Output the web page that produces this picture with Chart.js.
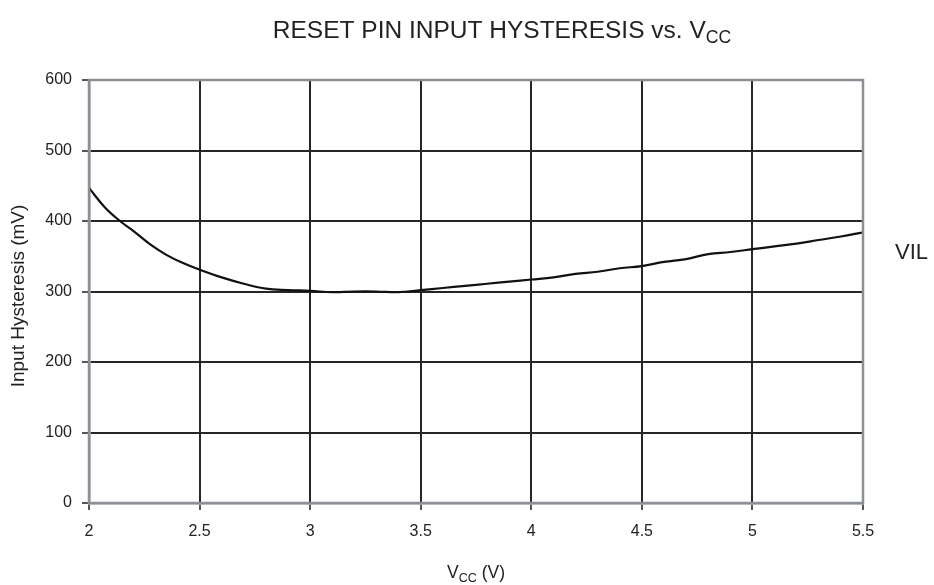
<!DOCTYPE html>
<html>
<head>
<meta charset="utf-8">
<title>RESET PIN INPUT HYSTERESIS vs. VCC</title>
<script src="https://cdn.jsdelivr.net/npm/chart.js@4"></script>
<style>
  html, body { margin: 0; padding: 0; background: #fff; }
  #wrap { width: 934px; height: 585px; position: relative; }
</style>
</head>
<body>
<div id="wrap"><canvas id="hysteresisChart"></canvas></div>
<script>
// Supply voltage (V) and measured hysteresis (mV) along the VIL curve
const vccValues = [2.0, 2.07, 2.14, 2.2, 2.28, 2.35, 2.42, 2.5, 2.6, 2.7, 2.8, 2.9, 3.0, 3.1, 3.2, 3.3, 3.4, 3.5,
  3.6, 3.7, 3.8, 3.9, 4.0, 4.1, 4.2, 4.3, 4.4, 4.5, 4.6, 4.7, 4.8, 4.9, 5.0, 5.1, 5.2, 5.3, 5.4, 5.5];
const hysteresisValues = [447, 420, 400, 386, 366, 352, 341, 331, 320, 311, 304, 302, 301, 299, 300, 300, 299, 302,
  305, 308, 311, 314, 317, 320, 325, 328, 333, 336, 342, 346, 353, 356, 360, 364, 368, 373, 378, 384];
const xTicks = [2, 2.5, 3, 3.5, 4, 4.5, 5, 5.5];
const yTicks = [0, 100, 200, 300, 400, 500, 600];
const seriesLabel = 'VIL';

const FONT = '"Liberation Sans", Arial, Helvetica, sans-serif';
const GRID = '#262626';
const FRAME = '#8c9096';

// Text with an optional subscript, drawn left to right from x
function drawSubText(ctx, parts, x, y, size) {
    let cx = x;
    parts.forEach(p => {
        const s = p.sub ? size * 0.72 : size;
        ctx.font = s + 'px ' + FONT;
        ctx.fillText(p.text, cx, y + (p.sub ? size * 0.3 : 0));
        cx += ctx.measureText(p.text).width;
    });
    return cx - x;
}

function measureSubText(ctx, parts, size) {
    let w = 0;
    parts.forEach(p => {
        ctx.font = (p.sub ? size * 0.72 : size) + 'px ' + FONT;
        w += ctx.measureText(p.text).width;
    });
    return w;
}

const decorations = {
    id: 'decorations',
    afterDraw(chart) {
        const { ctx, chartArea } = chart;
        ctx.save();
        ctx.fillStyle = '#222';
        ctx.textBaseline = 'middle';

        // outer frame of the plot area
        ctx.strokeStyle = FRAME;
        ctx.lineWidth = 2.5;
        ctx.strokeRect(chartArea.left, chartArea.top, chartArea.right - chartArea.left, chartArea.bottom - chartArea.top);

        // chart title
        const title = [{ text: 'RESET PIN INPUT HYSTERESIS vs. V' }, { text: 'CC', sub: true }];
        const tw = measureSubText(ctx, title, 24.5);
        drawSubText(ctx, title, 502 - tw / 2, 31, 24.5);

        // x axis title
        const xt = [{ text: 'V' }, { text: 'CC', sub: true }, { text: ' (V)' }];
        const xw = measureSubText(ctx, xt, 17.5);
        drawSubText(ctx, xt, 476 - xw / 2, 573, 17.5);

        // y axis title
        ctx.translate(19, 296);
        ctx.rotate(-Math.PI / 2);
        ctx.textAlign = 'center';
        ctx.font = '19px ' + FONT;
        ctx.fillText('Input Hysteresis (mV)', 0, 0);
        ctx.restore();

        // series label at the right of the curve
        ctx.save();
        ctx.fillStyle = '#222';
        ctx.font = '22px ' + FONT;
        ctx.textBaseline = 'middle';
        ctx.fillText(seriesLabel, 895, 253);
        ctx.restore();
    }
};

const points = vccValues.map((v, i) => ({ x: v, y: hysteresisValues[i] }));

new Chart(document.getElementById('hysteresisChart').getContext('2d'), {
    type: 'line',
    data: {
        datasets: [{
            label: seriesLabel,
            data: points,
            borderColor: '#111',
            borderWidth: 2.2,
            pointRadius: 0,
            tension: 0.4,
            fill: false
        }]
    },
    options: {
        responsive: true,
        maintainAspectRatio: false,
        animation: false,
        layout: { padding: { top: 80, right: 71, bottom: 0, left: 0 } },
        scales: {
            x: {
                type: 'linear',
                min: 2,
                max: 5.5,
                afterFit: scale => { scale.height = 82; },
                afterBuildTicks: scale => { scale.ticks = xTicks.map(v => ({ value: v })); },
                grid: { color: GRID, lineWidth: 2, tickLength: 7, tickColor: '#555' },
                border: { color: FRAME, width: 2.5 },
                ticks: {
                    padding: 12,
                    color: '#222',
                    font: { family: FONT, size: 16 },
                    callback: v => String(v)
                }
            },
            y: {
                min: 0,
                max: 600,
                afterFit: scale => { scale.width = 89; },
                afterBuildTicks: scale => { scale.ticks = yTicks.map(v => ({ value: v })); },
                grid: { color: GRID, lineWidth: 2, tickLength: 7, tickColor: '#555' },
                border: { color: FRAME, width: 2.5 },
                ticks: {
                    padding: 10,
                    color: '#222',
                    font: { family: FONT, size: 16 }
                }
            }
        },
        plugins: {
            legend: { display: false },
            tooltip: { enabled: false }
        }
    },
    plugins: [decorations]
});
</script>
</body>
</html>
